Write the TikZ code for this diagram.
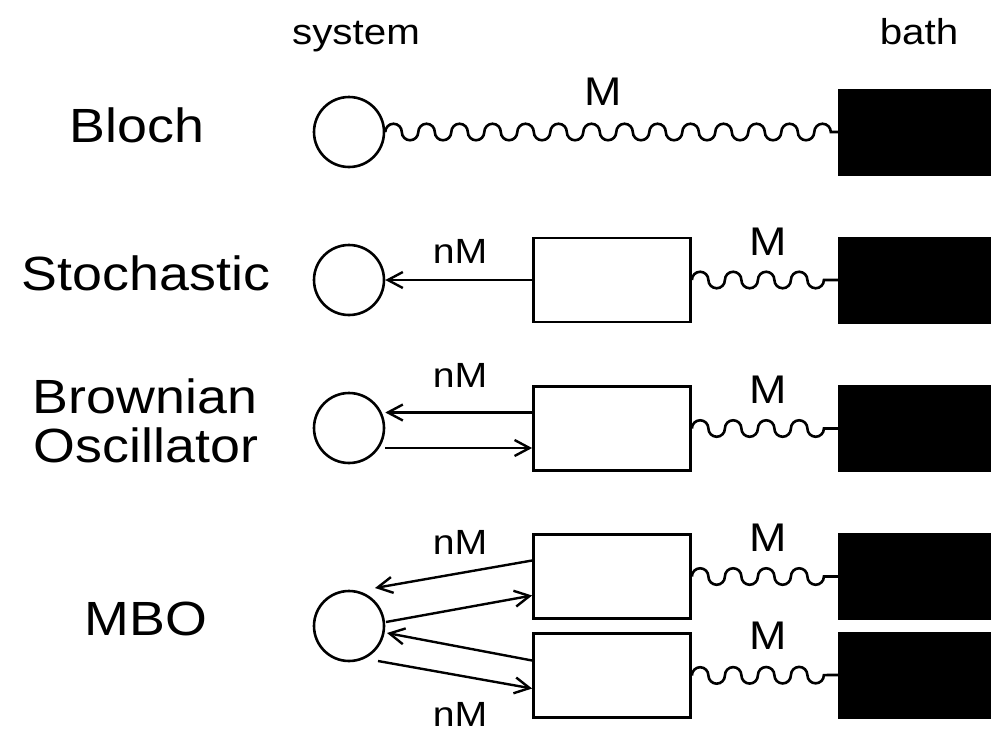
\documentclass[tikz,border=0pt]{standalone}
\usepackage{fontspec}
\setmainfont[FakeStretch=1.12]{Liberation Sans}
\usetikzlibrary{arrows.meta,calc,decorations}

\pgfdeclaredecoration{halfloops}{up}{
  \state{up}[width=\pgfdecorationsegmentlength,next state=down]{
    \pgfpathlineto{\pgfpointorigin}
    \pgfpatharc{180}{0}{0.5\pgfdecorationsegmentlength}
  }
  \state{down}[width=\pgfdecorationsegmentlength,next state=up]{
    \pgfpathlineto{\pgfpointorigin}
    \pgfpatharc{180}{360}{0.5\pgfdecorationsegmentlength}
  }
  \state{final}{\pgfpathlineto{\pgfpointdecoratedpathlast}}
}

\begin{document}
\begin{tikzpicture}[x=1pt,y=-1pt,
    sys/.style={circle,draw,line width=2.6pt,minimum size=70pt,inner sep=0pt},
    filter/.style={rectangle,draw,line width=2.8pt,minimum width=157pt,minimum height=84pt,inner sep=0pt},
    bath/.style={rectangle,fill=black,minimum width=170pt,minimum height=87pt,inner sep=0pt,anchor=west},
    wave/.style={line width=2.6pt,decorate,decoration={halfloops,segment length=16.5pt}},
    flow/.style={line width=2.4pt,-{Straight Barb[length=15pt,width=16pt]}},
    head/.style={font=\fontsize{36}{36}\selectfont,anchor=base},
    model/.style={font=\fontsize{48}{49}\selectfont,anchor=base},
    coup/.style={font=\fontsize{40}{40}\selectfont,anchor=base},
    ncoup/.style={font=\fontsize{35}{35}\selectfont,anchor=base,inner sep=1pt}]
    \useasboundingbox (0,0) rectangle (991,729);
    \node[head] (hsys) at (356,44) {system};
    \node[head] (hbath) at (919,44) {bath};

    \node[model] (lblA) at (137,142) {Bloch};
    \node[sys] (sysA) at (349,132) {};
    \node[bath] (bathA) at (838,132) {};
    \draw[wave] (sysA.east) -- (bathA.west);
    \node[coup] (mA) at (603,105) {M};

    \node[model] (lblB) at (146,290) {Stochastic};
    \node[sys] (sysB) at (349,280) {};
    \node[filter] (boxB) at (612,280) {};
    \node[bath] (bathB) at (838,280) {};
    \draw[flow] (boxB.west) -- (sysB.east);
    \draw[wave] (boxB.east) -- (bathB.west);
    \node[ncoup] (nB) at (460,263) {nM};
    \node[coup] (mB) at (768,255) {M};

    \node[model] (lblC) at (145,413) {Brownian};
    \node[model] (lblC2) at (146,462) {Oscillator};
    \node[sys] (sysC) at (349,428) {};
    \node[filter] (boxC) at (612,428.5) {};
    \node[bath] (bathC) at (838,428.5) {};
    \draw[flow] ([yshift=16pt]boxC.west) -- ([yshift=16pt]boxC.west -| sysC.east);
    \draw[flow] ([yshift=-20pt]sysC.east) -- ([yshift=-20pt]sysC.east -| boxC.west);
    \draw[wave] (boxC.east) -- (bathC.west);
    \node[ncoup] (nC) at (460,387) {nM};
    \node[coup] (mC) at (768,403) {M};

    \node[model] (lblD) at (146,635) {MBO};
    \node[sys] (sysD) at (349,626) {};
    \node[filter] (boxD1) at (612,576.5) {};
    \node[filter] (boxD2) at (612,675.5) {};
    \node[bath] (bathD1) at (838,576.5) {};
    \node[bath] (bathD2) at (838,675) {};
    \coordinate (tipD1) at ($(sysD)+(26,-38)$);
    \coordinate (outD1) at ($(sysD)+(37,-4)$);
    \coordinate (tipD2) at ($(sysD)+(38,7)$);
    \coordinate (outD2) at ($(sysD)+(29,35)$);
    \draw[flow] ([yshift=16pt]boxD1.west) -- (tipD1);
    \draw[flow] (outD1) -- ([yshift=-19pt]boxD1.west);
    \draw[flow] ([yshift=15pt]boxD2.west) -- (tipD2);
    \draw[flow] (outD2) -- ([yshift=-13pt]boxD2.west);
    \draw[wave] (boxD1.east) -- (bathD1.west);
    \draw[wave] (boxD2.east) -- (bathD2.west);
    \node[ncoup] (nD1) at (460,554) {nM};
    \node[ncoup] (nD2) at (460,726) {nM};
    \node[coup] (mD1) at (768,551) {M};
    \node[coup] (mD2) at (768,649) {M};
  \end{tikzpicture}
\end{document}
